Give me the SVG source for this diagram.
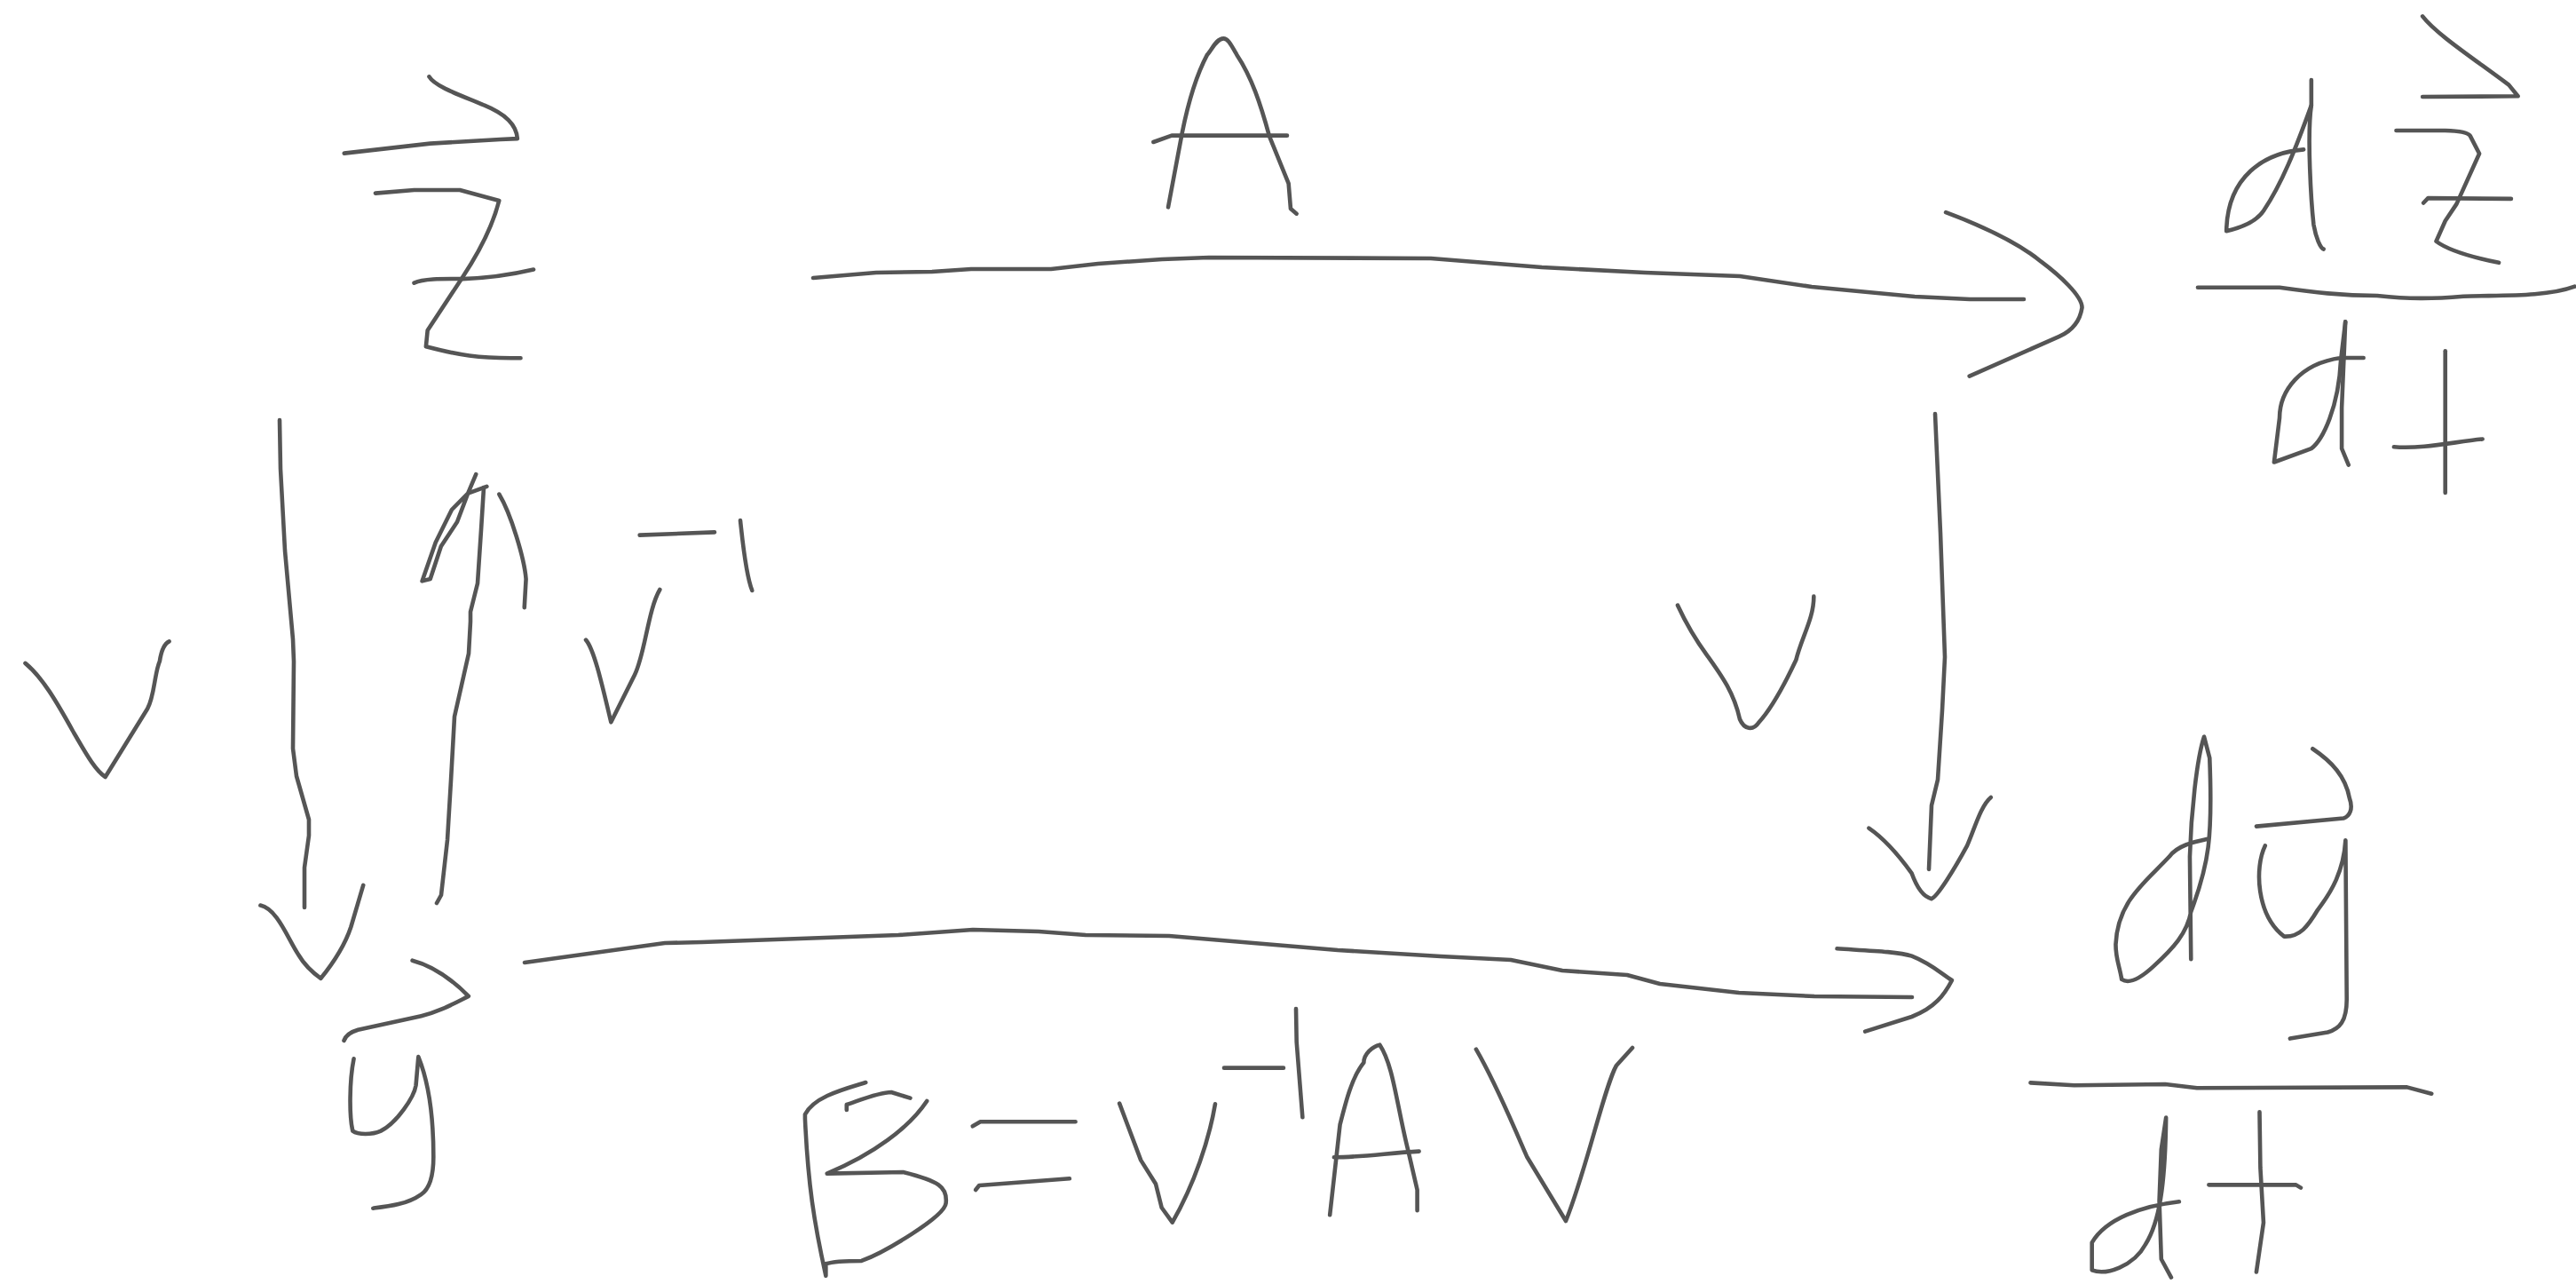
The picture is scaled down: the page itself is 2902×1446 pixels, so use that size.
<svg xmlns="http://www.w3.org/2000/svg" width="2902" height="1446" viewBox="0 0 2902 1446">
<style>
path{fill:none;stroke:#555;stroke-width:4.6;stroke-linecap:round;stroke-linejoin:round;vector-effect:non-scaling-stroke}
</style>
<rect width="2902" height="1446" fill="#fff"/>
<g id="connectors">
<g id="arrow-A">
<path d="M916,313L987,307L1050,306L1094,303L1184,303L1237,297L1309,292L1362,290L1612,291L1737,301L1853,307L1960,311L2041,323L2157,334L2219,337L2280,337"/>
<path transform="translate(2100,0) scale(.5115,.3827)" d="M180,625C270,670 340,715 390,770C430,810 480,870 480,905C475,950 455,975 430,990L232,1107"/>
</g>
<g id="arrow-B">
<path d="M591,1084L749,1062L791,1061L1012,1053L1096,1047L1170,1049L1223,1053L1317,1054L1507,1070L1623,1077L1702,1081L1760,1093L1833,1098L1870,1108L1959,1118L2044,1122L2154,1123"/>
<path transform="translate(570,1020) scale(1.0523,.3333)" d="M1425,145C1460,152 1490,155 1505,170C1525,195 1535,225 1548,252C1540,300 1530,345 1505,375L1455,425"/>
</g>
<g id="arrow-V-left">
<path d="M315,473L316,528L321,620L330,720L331,745L330,843L334,874L348,923L348,941L343,977L343,1022"/>
<path transform="translate(0,700) scale(.3954,.4464)" d="M742,716C790,725 820,800 850,840C870,870 890,885 914,900C960,850 985,810 1000,770L1035,665"/>
</g>
<g id="arrow-V-inverse">
<path d="M492,1017L497,1008L504,946L508,879L512,807L528,736L530,700L530,689L538,657L542,597L545,549"/>
<path transform="scale(.6059,.4592)" d="M905,1193L870,1210L840,1250L810,1330L785,1425L800,1420L820,1340L850,1280L870,1210L885,1163"/>
<path transform="scale(.6059,.4592)" d="M928,1212C950,1260 975,1370 978,1420L975,1490"/>
</g>
<g id="arrow-V-right">
<path d="M2180,466L2186,600L2191,740L2188,800L2183,878L2176,907L2173,979"/>
<path transform="translate(2100,800) scale(.4464,.412)" d="M12,322C50,350 90,400 120,445C135,490 150,510 170,515C185,510 230,430 260,370C280,320 295,260 320,238"/>
</g>
</g>
<g id="node-z" transform="scale(.6059,.4592)">
<title>z vector</title>
<path d="M798,188C810,215 870,240 900,258C940,280 960,305 962,340L930,342L800,352L640,376"/>
<path d="M698,474L770,466L855,466L928,492C915,560 890,620 860,680L795,810L792,850C850,870 890,880 968,878"/>
<path d="M770,694C790,682 830,684 860,684C910,682 950,674 992,661"/>
</g>
<g id="node-dz-dt" transform="translate(2100,0) scale(.5115,.3827)">
<title>dz/dt</title>
<path d="M968,440C880,450 800,520 798,680C830,670 865,650 880,620C920,540 950,440 985,310L985,235"/>
<path d="M985,310C975,400 985,600 990,660C995,700 1005,730 1012,733"/>
<path d="M1230,48C1260,100 1340,170 1420,250L1440,283L1230,285"/>
<path d="M1172,384L1280,384C1310,385 1330,390 1335,400L1355,452L1305,600L1280,650L1260,710C1290,740 1350,760 1398,773"/>
<path d="M1232,597L1242,583L1425,585"/>
<path d="M735,846L915,846C990,860 1050,870 1130,870C1200,880 1250,880 1320,872C1400,868 1500,875 1565,843"/>
<path d="M1100,1053L1050,1053C960,1070 915,1150 915,1230L903,1360L985,1320C1010,1295 1045,1200 1050,1060L1060,947"/>
<path d="M1060,947L1052,1200L1052,1320L1067,1368"/>
<path d="M1280,1033L1280,1450"/>
<path d="M1167,1315C1230,1322 1300,1300 1362,1292"/>
</g>
<g id="node-y" transform="translate(0,700) scale(.3954,.4464)">
<title>y vector</title>
<path d="M1175,855C1240,870 1290,905 1335,945C1290,965 1250,985 1200,995L1020,1030C1000,1035 985,1045 980,1057"/>
<path d="M1008,1103C995,1160 995,1250 1005,1285C1020,1295 1060,1295 1085,1285C1130,1265 1180,1200 1185,1170L1192,1098C1225,1170 1235,1260 1235,1350C1235,1400 1225,1430 1200,1445C1160,1470 1110,1475 1063,1480"/>
</g>
<g id="node-dy-dt" transform="translate(2100,800) scale(.4464,.412)">
<title>dy/dt</title>
<path d="M865,352C830,360 790,370 770,400C710,470 640,520 635,640C635,680 645,700 650,735C670,750 700,730 730,700C780,650 815,610 825,550C870,420 880,350 872,130L858,72C840,130 825,280 822,400L825,680"/>
<path d="M1132,105C1180,140 1215,180 1225,240C1235,270 1225,290 1210,295L990,317"/>
<path d="M1012,370C985,430 990,560 1060,618C1100,620 1120,590 1145,545C1180,495 1210,440 1215,355L1218,790C1218,850 1200,870 1170,880L1075,897"/>
<path d="M420,1018L530,1025L760,1022L840,1032L1370,1030L1432,1048"/>
<path d="M795,1343C700,1355 610,1390 575,1455L575,1530C610,1545 680,1520 710,1460C745,1400 760,1300 762,1113L750,1200L745,1340L750,1500L775,1550"/>
<path d="M998,1098L1000,1250L1008,1400L990,1535"/>
<path d="M870,1297L1090,1297L1102,1305"/>
</g>
<g id="label-A" transform="translate(1250,20) scale(.3333)">
<title>A</title>
<path d="M198,640L245,390C265,290 290,200 330,125C345,110 360,70 385,70C400,70 410,90 430,125C480,200 510,290 540,400L605,560L612,645L632,662"/>
<path d="M148,420L210,398L600,398"/>
</g>
<g id="label-V-left" transform="translate(0,700) scale(.3954,.4464)">
<title>V</title>
<path d="M72,105C120,140 160,200 210,280C240,325 270,375 300,392L420,220C440,190 440,130 455,100C460,70 470,55 482,50"/>
</g>
<g id="label-V-inverse" transform="translate(640,560) scale(.3333)">
<title>V inverse</title>
<path d="M60,482C85,510 110,610 145,760L225,600C260,530 270,380 310,312"/>
<path d="M242,128L495,118"/>
<path d="M582,78C590,150 600,260 622,315"/>
</g>
<g id="label-V-right" transform="translate(1860,640) scale(.3333)">
<title>V</title>
<path d="M90,125C120,190 150,240 190,295C240,365 280,420 300,510C315,545 345,550 365,520C410,470 450,395 490,310C510,230 550,170 550,95"/>
</g>
<g id="label-B" transform="translate(850,1100) scale(.6696,.3333)">
<title>B = V inverse A V</title>
<path d="M187,357C150,380 100,405 85,465L85,480C90,700 100,830 120,1010L120,970C135,960 160,960 180,960C220,930 320,810 322,765C325,710 310,690 250,660L122,665C200,600 260,510 290,420"/>
<path d="M155,450L155,432C180,415 210,390 230,390L262,410"/>
<path d="M367,505L380,490L540,490"/>
<path d="M372,720L378,705L530,682"/>
<path d="M614,428L650,620L675,700L685,780L703,830C740,700 765,550 775,430"/>
<path d="M790,308L890,308"/>
<path d="M911,108L912,220L922,475"/>
<path d="M968,805L985,500C995,420 1005,340 1025,290C1025,260 1040,235 1052,230C1075,300 1080,430 1100,590L1115,720L1115,790"/>
<path d="M975,610C1020,610 1070,595 1118,590"/>
<path d="M1214,245C1250,370 1280,520 1300,610L1365,825C1400,650 1430,370 1450,300L1477,240"/>
</g>
</svg>
